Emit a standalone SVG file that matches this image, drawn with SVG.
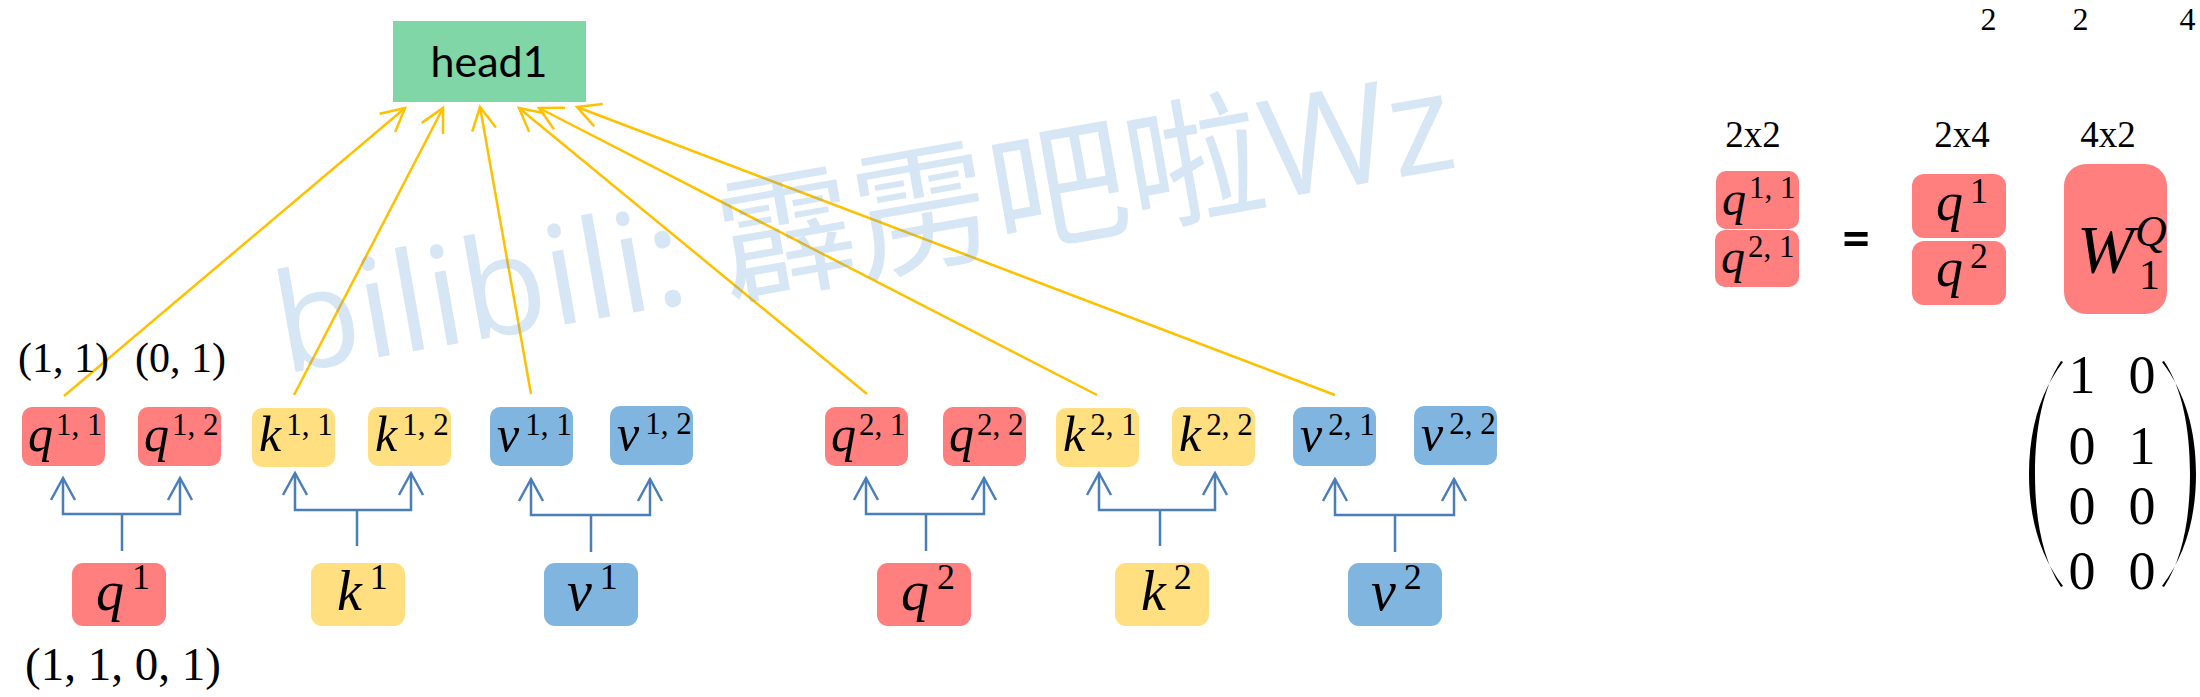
<svg xmlns="http://www.w3.org/2000/svg" width="2200" height="697" viewBox="0 0 2200 697">
<defs>
<style>
.r{fill:#FF7F7F}
.yw{fill:#FFDF80}
.bu{fill:#7FB5DF}
.m{font-family:"Liberation Serif","Times New Roman",serif;fill:#000}
.i{font-style:italic}
.s{font-size:31px}
.s36{font-size:36px}
.yl{fill:none;stroke:#FFC000;stroke-width:2.5;marker-end:url(#ay)}
.bl{fill:none;stroke:#4A7EBB;stroke-width:2.5}
.ba{marker-end:url(#ab)}
</style>
<marker id="ay" markerUnits="userSpaceOnUse" viewBox="-30 -15 32 30" refX="0" refY="0" markerWidth="32" markerHeight="30" orient="auto" overflow="visible">
<path d="M-23,-12 L0,0 L-23,12" fill="none" stroke="#FFC000" stroke-width="2.5"/>
</marker>
<marker id="ab" markerUnits="userSpaceOnUse" viewBox="-30 -15 32 30" refX="0" refY="0" markerWidth="32" markerHeight="30" orient="auto" overflow="visible">
<path d="M-22,-12 L0,0 L-22,12" fill="none" stroke="#4A7EBB" stroke-width="2.5"/>
</marker>
</defs>
<rect width="2200" height="697" fill="#FFFFFF"/>

<g id="connectors">
<path class="yl" d="M64,396 L405,108"/>
<path class="yl" d="M294,395 L443,108"/>
<path class="yl" d="M531,394 L480,107"/>
<path class="yl" d="M867,394 L519,108"/>
<path class="yl" d="M1097,395 L539,108"/>
<path class="yl" d="M1335,395 L577,107"/>
<path class="bl" d="M122,551 V514"/>
<path class="bl ba" d="M122,514 H63 V478"/>
<path class="bl ba" d="M122,514 H180 V478"/>
<path class="bl" d="M357,546 V510"/>
<path class="bl ba" d="M357,510 H295 V473"/>
<path class="bl ba" d="M357,510 H411 V473"/>
<path class="bl" d="M591,552 V515"/>
<path class="bl ba" d="M591,515 H531 V479"/>
<path class="bl ba" d="M591,515 H650 V479"/>
<path class="bl" d="M926,551 V514"/>
<path class="bl ba" d="M926,514 H866 V478"/>
<path class="bl ba" d="M926,514 H984 V478"/>
<path class="bl" d="M1160,546 V510"/>
<path class="bl ba" d="M1160,510 H1099 V473"/>
<path class="bl ba" d="M1160,510 H1215 V473"/>
<path class="bl" d="M1395,552 V515"/>
<path class="bl ba" d="M1395,515 H1335 V479"/>
<path class="bl ba" d="M1395,515 H1454 V479"/>
</g>

<g id="head1">
<rect x="393" y="21" width="193" height="81" fill="#80D6A6"/>
<text x="489" y="77" font-family="Lato,'Liberation Sans',sans-serif" font-size="43" text-anchor="middle" fill="#000">head1</text>
</g>

<g id="q11"><rect class="r" x="22" y="407" width="83" height="59" rx="10"/><text class="m" x="28" y="451" font-size="50"><tspan class="i">q</tspan><tspan class="s" dx="3" dy="-16">1, 1</tspan></text></g>
<g id="q12"><rect class="r" x="138" y="407" width="83" height="59" rx="10"/><text class="m" x="144" y="451" font-size="50"><tspan class="i">q</tspan><tspan class="s" dx="3" dy="-16">1, 2</tspan></text></g>
<g id="k11"><rect class="yw" x="252" y="408" width="83" height="59" rx="10"/><text class="m" x="259" y="451" font-size="50"><tspan class="i">k</tspan><tspan class="s" dx="5" dy="-16">1, 1</tspan></text></g>
<g id="k12"><rect class="yw" x="368" y="407" width="83" height="59" rx="10"/><text class="m" x="375" y="451" font-size="50"><tspan class="i">k</tspan><tspan class="s" dx="5" dy="-16">1, 2</tspan></text></g>
<g id="v11"><rect class="bu" x="490" y="407" width="83" height="59" rx="10"/><text class="m" x="497" y="451" font-size="50"><tspan class="i">v</tspan><tspan class="s" dx="6" dy="-16">1, 1</tspan></text></g>
<g id="v12"><rect class="bu" x="610" y="406" width="83" height="59" rx="10"/><text class="m" x="617" y="450" font-size="50"><tspan class="i">v</tspan><tspan class="s" dx="6" dy="-16">1, 2</tspan></text></g>
<g id="q21"><rect class="r" x="825" y="407" width="83" height="59" rx="10"/><text class="m" x="831" y="451" font-size="50"><tspan class="i">q</tspan><tspan class="s" dx="3" dy="-16">2, 1</tspan></text></g>
<g id="q22"><rect class="r" x="943" y="407" width="83" height="59" rx="10"/><text class="m" x="949" y="451" font-size="50"><tspan class="i">q</tspan><tspan class="s" dx="3" dy="-16">2, 2</tspan></text></g>
<g id="k21"><rect class="yw" x="1056" y="408" width="83" height="59" rx="10"/><text class="m" x="1063" y="451" font-size="50"><tspan class="i">k</tspan><tspan class="s" dx="5" dy="-16">2, 1</tspan></text></g>
<g id="k22"><rect class="yw" x="1172" y="407" width="83" height="59" rx="10"/><text class="m" x="1179" y="451" font-size="50"><tspan class="i">k</tspan><tspan class="s" dx="5" dy="-16">2, 2</tspan></text></g>
<g id="v21"><rect class="bu" x="1293" y="407" width="83" height="59" rx="10"/><text class="m" x="1300" y="451" font-size="50"><tspan class="i">v</tspan><tspan class="s" dx="6" dy="-16">2, 1</tspan></text></g>
<g id="v22"><rect class="bu" x="1414" y="406" width="83" height="59" rx="10"/><text class="m" x="1421" y="450" font-size="50"><tspan class="i">v</tspan><tspan class="s" dx="6" dy="-16">2, 2</tspan></text></g>

<g id="q1"><rect class="r" x="72" y="563" width="94" height="63" rx="11"/><text class="m" x="96" y="610" font-size="56"><tspan class="i">q</tspan><tspan class="s36" dx="8" dy="-21">1</tspan></text></g>
<g id="k1"><rect class="yw" x="311" y="563" width="94" height="63" rx="11"/><text class="m" x="337" y="610" font-size="56"><tspan class="i">k</tspan><tspan class="s36" dx="8" dy="-21">1</tspan></text></g>
<g id="v1"><rect class="bu" x="544" y="563" width="94" height="63" rx="11"/><text class="m" x="567" y="610" font-size="56"><tspan class="i">v</tspan><tspan class="s36" dx="8" dy="-21">1</tspan></text></g>
<g id="q2"><rect class="r" x="877" y="563" width="94" height="63" rx="11"/><text class="m" x="901" y="610" font-size="56"><tspan class="i">q</tspan><tspan class="s36" dx="8" dy="-21">2</tspan></text></g>
<g id="k2"><rect class="yw" x="1115" y="563" width="94" height="63" rx="11"/><text class="m" x="1141" y="610" font-size="56"><tspan class="i">k</tspan><tspan class="s36" dx="8" dy="-21">2</tspan></text></g>
<g id="v2"><rect class="bu" x="1348" y="563" width="94" height="63" rx="11"/><text class="m" x="1371" y="610" font-size="56"><tspan class="i">v</tspan><tspan class="s36" dx="8" dy="-21">2</tspan></text></g>

<g id="labels">
<text class="m" x="63.5" y="372" font-size="42" text-anchor="middle">(1, 1)</text>
<text class="m" x="180.5" y="372" font-size="42" text-anchor="middle">(0, 1)</text>
<text class="m" x="123" y="680" font-size="47" text-anchor="middle">(1, 1, 0, 1)</text>
<text class="m" x="1988.5" y="30" font-size="32" text-anchor="middle">2</text>
<text class="m" x="2080.5" y="30" font-size="32" text-anchor="middle">2</text>
<text class="m" x="2187.5" y="30" font-size="32" text-anchor="middle">4</text>
<text class="m" x="1753" y="147" font-size="37" text-anchor="middle">2x2</text>
<text class="m" x="1962" y="147" font-size="37" text-anchor="middle">2x4</text>
<text class="m" x="2108" y="147" font-size="37" text-anchor="middle">4x2</text>
</g>

<g id="rq11"><rect class="r" x="1716" y="171" width="83" height="58" rx="10"/><text class="m" x="1722" y="215" font-size="48"><tspan class="i">q</tspan><tspan class="s" dx="3" dy="-17">1, 1</tspan></text></g>
<g id="rq21"><rect class="r" x="1715" y="230" width="84" height="57" rx="10"/><text class="m" x="1721" y="273" font-size="48"><tspan class="i">q</tspan><tspan class="s" dx="3" dy="-16">2, 1</tspan></text></g>
<g id="equals"><text x="1856" y="256" font-family="Lato,'Liberation Sans',sans-serif" font-weight="bold" font-size="52" text-anchor="middle" fill="#000">=</text></g>
<g id="rq1"><rect class="r" x="1912" y="174" width="94" height="64" rx="12"/><text class="m" x="1936" y="220" font-size="54"><tspan class="i">q</tspan><tspan class="s36" dx="7" dy="-17">1</tspan></text></g>
<g id="rq2"><rect class="r" x="1912" y="241" width="94" height="64" rx="12"/><text class="m" x="1936" y="286" font-size="54"><tspan class="i">q</tspan><tspan class="s36" dx="7" dy="-18">2</tspan></text></g>
<g id="W1Q"><rect class="r" x="2064" y="164" width="103" height="150" rx="22"/>
<text class="m" x="2077" y="272" font-size="68"><tspan class="i">W</tspan><tspan class="i" x="2135" y="246" font-size="44">Q</tspan><tspan x="2139" y="289" font-size="42">1</tspan></text></g>

<g id="matrix">
<path d="M2063,362 C2040,392 2029,430 2029,474 C2029,518 2040,556 2063,586 L2061,587 C2043,560 2035,520 2035,474 C2035,428 2043,388 2061,361 Z" fill="#000"/>
<path d="M2162,362 C2185,392 2196,430 2196,474 C2196,518 2185,556 2162,586 L2164,587 C2182,560 2190,520 2190,474 C2190,428 2182,388 2164,361 Z" fill="#000"/>
<g class="m" font-size="54" text-anchor="middle">
<text x="2082" y="393">1</text><text x="2142" y="393">0</text>
<text x="2082" y="464">0</text><text x="2142" y="464">1</text>
<text x="2082" y="524">0</text><text x="2142" y="524">0</text>
<text x="2082" y="589">0</text><text x="2142" y="589">0</text>
</g>
</g>

<text id="watermark" x="284" y="374" transform="rotate(-10 284 374)" font-family="'Open Sans','Noto Sans CJK SC',sans-serif" font-size="138" fill="#5B9BD5" opacity="0.24">bilibili: 霹雳吧啦Wz</text>
</svg>
